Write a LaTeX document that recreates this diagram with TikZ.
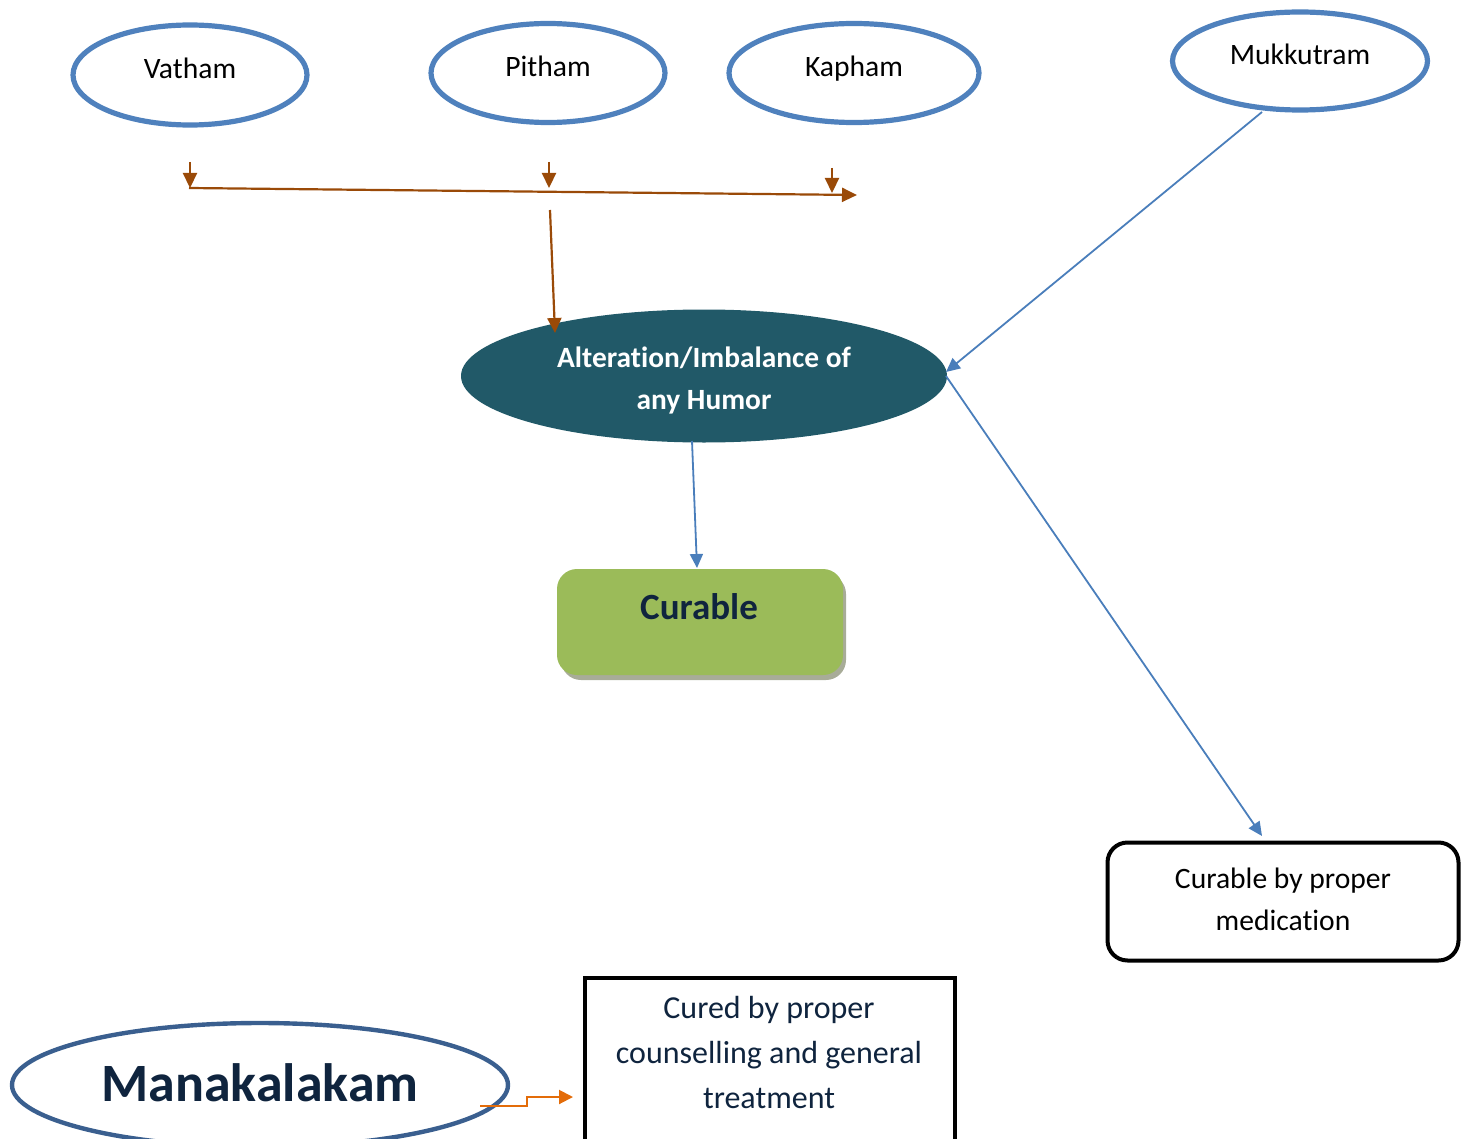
\documentclass[tikz,border=0pt]{standalone}
\usepackage{fontspec}
\setmainfont{Carlito}[Ligatures={NoCommon}]
\usetikzlibrary{shapes.geometric,arrows.meta}
\definecolor{hblue}{HTML}{4F81BD}
\definecolor{hdblue}{HTML}{3A5F8F}
\definecolor{abrown}{HTML}{9A4A08}
\definecolor{ablue}{HTML}{4A7EBB}
\definecolor{tealfill}{HTML}{215968}
\definecolor{greenfill}{HTML}{9BBB59}
\definecolor{shadowgray}{HTML}{A8AC98}
\definecolor{navy}{HTML}{0F243E}
\definecolor{aorange}{HTML}{E36C09}
\tikzset{
  humor/.style={ellipse, draw=hblue, line width=2.6pt, inner sep=0pt, fill=white},
  lbl/.style={anchor=base, inner sep=0pt, font=\fontsize{14.8}{17}\selectfont},
  brownarr/.style={draw=abrown, line width=1.1pt, -{Triangle[length=7.5pt,width=7pt]}},
  bluearr/.style={draw=ablue, line width=0.9pt, -{Triangle[length=7pt,width=6.5pt]}},
}
\begin{document}
\begin{tikzpicture}[x=0.5pt,y=-0.5pt]
\useasboundingbox (0,0) rectangle (1471,1139);
% top humors
\node[humor, minimum width=117pt, minimum height=50pt] (vat) at (190,75) {};
\node[lbl] (vatt) at (190,79) {Vatham};
\node[humor, minimum width=117pt, minimum height=49.5pt] (pit) at (548,73) {};
\node[lbl] (pitt) at (548,77) {Pitham};
\node[humor, minimum width=125pt, minimum height=49.5pt] (kap) at (854,73) {};
\node[lbl] (kapt) at (854,77) {Kapham};
\node[humor, minimum width=127.5pt, minimum height=49pt] (muk) at (1300,61) {};
\node[lbl] (mukt) at (1300,65) {Mukkutram};
% brown arrows
\coordinate (v1) at (190,162); \coordinate (v2) at (190,188);
\coordinate (p1) at (549,162); \coordinate (p2) at (549,188);
\coordinate (k1) at (832,168); \coordinate (k2) at (832,193);
\coordinate (h1) at (189,188); \coordinate (h2) at (857,195);
\coordinate (d1) at (550,210); \coordinate (d2) at (555,333);
\draw[brownarr] (v1) -- (v2);
\draw[brownarr] (p1) -- (p2);
\draw[brownarr] (k1) -- (k2);
\draw[brownarr] (h1) -- (h2);
% central ellipse
\node[ellipse, fill=tealfill, inner sep=0pt, minimum width=243pt, minimum height=66.5pt] (alt) at (704,376) {};
\node[lbl, font=\bfseries\fontsize{14.7}{17}\selectfont, text=white] (altt1) at (704,367) {Alteration/Imbalance of};
\node[lbl, font=\bfseries\fontsize{14.7}{17}\selectfont, text=white] (altt2) at (704,409) {any Humor};
\draw[brownarr] (d1) -- (d2);
% curable box
\fill[shadowgray, rounded corners=10pt] (561,574) rectangle (846,680);
\node[draw=none, fill=greenfill, rounded corners=10pt, minimum width=143pt, minimum height=53pt, inner sep=0pt] (cur) at (700,622) {};
\node[lbl, font=\bfseries\fontsize{18.5}{22}\selectfont, text=navy] (curt) at (699,619) {Curable};
% medication box
\node[draw=black, line width=2pt, rounded corners=10pt, minimum width=175.5pt, minimum height=59pt, inner sep=0pt] (med) at (1283,901.5) {};
\node[lbl] (medt1) at (1283,888) {Curable by proper};
\node[lbl] (medt2) at (1283,930) {medication};
% blue arrows
\coordinate (mk) at (1262,112);
\coordinate (ae) at (946,372);
\coordinate (ae2) at (946,376);
\coordinate (me) at (1262,836);
\coordinate (as) at (692,441);
\coordinate (ce) at (697,568);
\draw[bluearr] (mk) -- (ae);
\draw[bluearr] (ae2) -- (me);
\draw[bluearr] (as) -- (ce);
% Manakalakam
\node[ellipse, draw=hdblue, line width=2.2pt, inner sep=0pt, minimum width=248pt, minimum height=62pt] (man) at (260,1085) {};
\node[lbl, font=\bfseries\fontsize{27}{32}\selectfont, text=navy] (mant) at (260,1101) {Manakalakam};
% cured box
\node[draw=black, line width=2pt, minimum width=185pt, minimum height=90pt, inner sep=0pt, anchor=north west] (cured) at (583,976) {};
\node[lbl, font=\fontsize{16}{19}\selectfont, text=navy] (cut1) at (769,1018) {Cured by proper};
\node[lbl, font=\fontsize{16}{19}\selectfont, text=navy] (cut2) at (769,1063) {counselling and general};
\node[lbl, font=\fontsize{16}{19}\selectfont, text=navy] (cut3) at (769,1108) {treatment};
% orange arrow
\coordinate (o1) at (480,1106);
\coordinate (o2) at (527,1106);
\coordinate (o3) at (527,1097);
\coordinate (o4) at (573,1097);
\draw[draw=aorange, line width=1pt, -{Triangle[length=7pt,width=7pt]}] (o1) -- (o2) -- (o3) -- (o4);
\end{tikzpicture}
\end{document}
